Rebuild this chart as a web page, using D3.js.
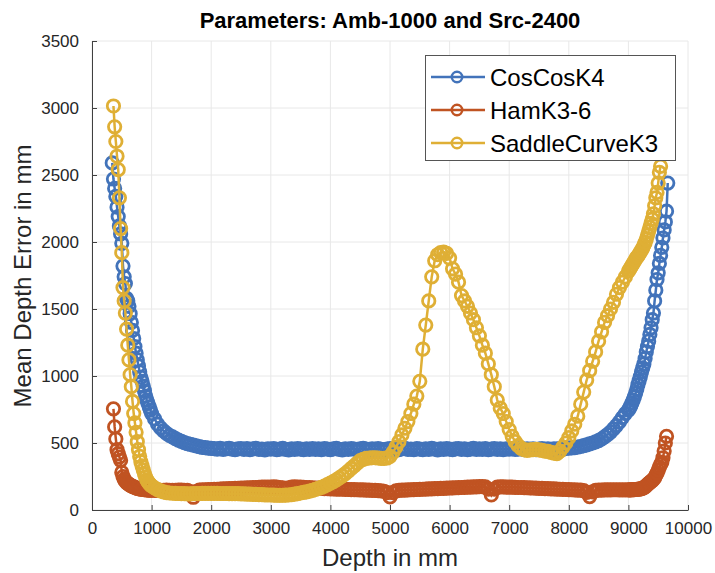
<!DOCTYPE html>
<html>
<head>
<meta charset="utf-8">
<script src="https://cdn.jsdelivr.net/npm/d3@7/dist/d3.min.js"></script>
<style>
  body { margin: 0; background: #fff; }
  text { font-family: "Liberation Sans", Arial, Helvetica, sans-serif; }
</style>
</head>
<body>
<div id="chart"></div>
<script>
// depth grid (mm) shared by all three series
var depths = [
  340,360,380,400,420,440,460,480,500,520,540,560,580,600,620,640,660,680,700,720,
  740,760,780,800,820,840,860,880,900,920,940,960,980,1000,
  1050,1100,1150,1200,1250,1300,1350,1400,1450,1500,
  1550,1600,1650,1700,1750,1800,1850,1900,1950,2000,
  2050,2100,2150,2200,2250,2300,2350,2400,2450,2500,
  2550,2600,2650,2700,2750,2800,2850,2900,2950,3000,
  3050,3100,3150,3200,3250,3300,3350,3400,3450,3500,
  3550,3600,3650,3700,3750,3800,3850,3900,3950,4000,
  4050,4100,4150,4200,4250,4300,4350,4400,4450,4500,
  4550,4600,4650,4700,4750,4800,4850,4900,4950,5000,
  5050,5100,5150,5200,5250,5300,5350,5400,5450,5500,
  5550,5600,5650,5700,5750,5800,5850,5900,5950,6000,
  6050,6100,6150,6200,6250,6300,6350,6400,6450,6500,
  6550,6600,6650,6700,6750,6800,6850,6900,6950,7000,
  7050,7100,7150,7200,7250,7300,7350,7400,7450,7500,
  7550,7600,7650,7700,7750,7800,7850,7900,7950,8000,
  8050,8100,8150,8200,8250,8300,8350,8400,8450,8500,
  8550,8600,8650,8700,8750,8800,8850,8900,8950,9000,
  9020,9040,9060,9080,9100,9120,9140,9160,9180,9200,
  9220,9240,9260,9280,9300,9320,9340,9360,9380,9400,
  9420,9440,9460,9480,9500,9520,9540,9560,9580,9600,
  9620,9640,9660
];

var cosCosK4 = [
  2590,2470,2400,2340,2260,2190,2120,2060,1990,1820,1740,1690,1580,1560,1520,1465,1400,1340,1280,1220,
  1170,1120,1075,1030,990,960,925,890,850,820,795,770,745,720,
  680,640,612,590,572,556,545,532,522,512,
  503,496,490,484,478,473,468,465,462,460,
  458,455,460,452,457,461,454,450,456,459,
  453,458,451,456,460,452,455,449,457,454,
  458,451,455,460,453,449,456,452,458,455,
  450,457,453,459,452,456,451,458,454,450,
  456,460,453,449,457,452,458,455,451,456,
  460,454,450,457,453,459,452,448,455,458,
  452,456,450,457,461,453,455,450,458,454,
  451,457,453,460,455,449,456,452,458,454,
  450,456,459,453,457,451,455,460,452,456,
  453,458,450,455,459,452,456,451,457,454,
  458,452,455,460,451,456,453,457,450,455,
  459,452,456,451,457,454,458,455,459,462,
  463,466,470,474,480,486,493,500,508,518,
  530,545,562,582,605,630,658,690,720,745,
  760,778,800,820,845,870,900,935,965,995,
  1030,1060,1090,1130,1180,1220,1260,1310,1360,1420,
  1470,1560,1640,1720,1770,1840,1900,1960,2030,2090,
  2150,2230,2440
];

var hamK36 = [
  null,755,620,530,450,420,395,370,280,250,228,215,205,198,192,186,180,176,172,168,
  165,162,160,158,156,155,153,152,151,150,150,149,148,148,
  147,146,146,147,148,147,146,147,148,148,
  147,146,138,95,138,148,150,151,152,153,
  154,155,156,157,158,159,160,161,162,163,
  164,165,166,167,168,169,170,170,171,171,
  172,170,168,165,155,165,170,172,171,170,
  169,168,167,166,164,163,162,160,159,158,
  157,156,155,155,154,153,152,152,151,150,
  150,149,148,147,146,145,143,140,130,98,
  130,142,146,148,149,150,151,152,153,154,
  155,156,157,158,159,160,161,162,163,164,
  165,166,167,168,169,170,171,172,173,175,
  174,172,155,112,155,170,173,172,171,170,
  170,169,168,168,167,166,165,164,163,162,
  161,160,159,158,157,156,155,154,153,152,
  151,150,149,148,145,132,100,135,146,148,
  149,150,150,150,151,151,150,150,150,150,
  150,150,151,152,152,153,154,155,156,158,
  160,163,167,173,182,190,198,205,213,220,
  228,240,258,275,295,320,340,355,390,440,
  500,550,null
];

var saddleCurveK3 = [
  null,3015,2860,2750,2640,2540,2330,2100,1920,1660,1560,1470,1350,1230,1120,1010,920,810,720,650,
  580,510,450,400,360,330,300,270,245,225,210,198,188,180,
  165,152,142,135,130,127,125,124,123,122,
  122,121,121,122,123,123,124,124,124,124,
  124,124,123,123,123,122,122,122,122,121,
  120,119,118,117,116,115,114,113,112,112,
  111,110,110,110,111,112,114,118,122,127,
  131,136,141,147,154,161,169,178,189,200,
  212,225,240,255,272,290,310,330,350,368,
  378,385,388,390,390,388,386,385,388,400,
  430,470,510,560,610,660,720,790,850,960,
  1200,1380,1560,1740,1860,1905,1920,1925,1915,1880,
  1800,1760,1700,1600,1560,1520,1470,1420,1360,1300,
  1230,1170,1090,1010,920,820,760,720,660,600,
  550,510,480,460,450,445,448,450,452,448,
  445,440,438,430,425,420,440,470,500,540,
  590,640,700,790,880,970,1040,1110,1180,1260,
  1330,1400,1450,1500,1550,1610,1660,1700,1740,1780,
  1795,1810,1825,1840,1855,1870,1885,1895,1910,1925,
  1940,1955,1975,1995,2020,2050,2080,2110,2140,2170,
  2210,2270,2330,2370,2440,2520,2565,null,null,null,
  null,null,null
];

var seriesNames = ["CosCosK4", "HamK3-6", "SaddleCurveK3"];
var seriesColors = ["#4273ba", "#c05322", "#dfaf35"];
var xTicks = [0,1000,2000,3000,4000,5000,6000,7000,8000,9000,10000];
var yTicks = [0,500,1000,1500,2000,2500,3000,3500];

var width = 715, height = 573;
var margin = {left: 92, right: 27, top: 41, bottom: 63};

var svg = d3.select("#chart").append("svg")
  .attr("width", width)
  .attr("height", height);

var x = d3.scaleLinear().domain([0, 10000]).range([margin.left, width - margin.right]);
var y = d3.scaleLinear().domain([0, 3500]).range([height - margin.bottom, margin.top]);

// grid
svg.append("g").selectAll("line.gx")
  .data(xTicks).enter().append("line")
  .attr("x1", function(d) { return x(d); })
  .attr("x2", function(d) { return x(d); })
  .attr("y1", y(0)).attr("y2", y(3500))
  .attr("stroke", "#e8e8e8").attr("stroke-width", 1);

svg.append("g").selectAll("line.gy")
  .data(yTicks).enter().append("line")
  .attr("x1", x(0)).attr("x2", x(10000))
  .attr("y1", function(d) { return y(d); })
  .attr("y2", function(d) { return y(d); })
  .attr("stroke", "#e8e8e8").attr("stroke-width", 1);

// axes, ticks inward
var xAxis = svg.append("g")
  .attr("transform", "translate(0," + y(0) + ")")
  .call(d3.axisBottom(x).tickValues(xTicks).tickFormat(d3.format("d"))
    .tickSizeInner(-5).tickSizeOuter(0).tickPadding(12));
var yAxis = svg.append("g")
  .attr("transform", "translate(" + x(0) + ",0)")
  .call(d3.axisLeft(y).tickValues(yTicks).tickFormat(d3.format("d"))
    .tickSizeInner(-5).tickSizeOuter(0).tickPadding(13));

[xAxis, yAxis].forEach(function(a) {
  a.select(".domain").attr("stroke", "#404040");
  a.selectAll(".tick line").attr("stroke", "#404040");
  a.selectAll(".tick text")
    .attr("fill", "#262626")
    .style("font-size", "17px")
    .style("font-family", "'Liberation Sans', Arial, sans-serif");
});

// series
var allSeries = [cosCosK4, hamK36, saddleCurveK3];

var line = d3.line()
  .defined(function(d) { return d[1] != null; })
  .x(function(d) { return x(d[0]); })
  .y(function(d) { return y(d[1]); });

allSeries.forEach(function(vals, i) {
  var pts = depths.map(function(d, j) { return [d, vals[j]]; });
  var g = svg.append("g");
  g.append("path")
    .datum(pts)
    .attr("d", line)
    .attr("fill", "none")
    .attr("stroke", seriesColors[i])
    .attr("stroke-width", 2.5);
  g.selectAll("circle")
    .data(pts.filter(function(p) { return p[1] != null; }))
    .enter().append("circle")
    .attr("cx", function(d) { return x(d[0]); })
    .attr("cy", function(d) { return y(d[1]); })
    .attr("r", 6.2)
    .attr("fill", "none")
    .attr("stroke", seriesColors[i])
    .attr("stroke-width", 2.8);
});

// title and labels
svg.append("text")
  .attr("x", 390).attr("y", 28)
  .attr("text-anchor", "middle")
  .style("font-size", "22px")
  .style("font-weight", "bold")
  .attr("fill", "#000")
  .text("Parameters: Amb-1000 and Src-2400");

svg.append("text")
  .attr("x", 390).attr("y", 566)
  .attr("text-anchor", "middle")
  .style("font-size", "24px")
  .attr("fill", "#262626")
  .text("Depth in mm");

svg.append("text")
  .attr("transform", "translate(31,276) rotate(-90)")
  .attr("text-anchor", "middle")
  .style("font-size", "24px")
  .attr("fill", "#262626")
  .text("Mean Depth Error in mm");

// legend
var legend = svg.append("g");
legend.append("rect")
  .attr("x", 425.5).attr("y", 55.5)
  .attr("width", 250).attr("height", 105)
  .attr("fill", "#fff")
  .attr("stroke", "#555")
  .attr("stroke-width", 1);

seriesNames.forEach(function(name, i) {
  var cy = 77 + i * 33;
  legend.append("line")
    .attr("x1", 431).attr("x2", 485)
    .attr("y1", cy).attr("y2", cy)
    .attr("stroke", seriesColors[i]).attr("stroke-width", 2.5);
  legend.append("circle")
    .attr("cx", 457).attr("cy", cy).attr("r", 5.2)
    .attr("fill", "none")
    .attr("stroke", seriesColors[i]).attr("stroke-width", 2.5);
  legend.append("text")
    .attr("x", 490).attr("y", cy + 8.5)
    .style("font-size", "24px")
    .attr("fill", "#000")
    .text(name);
});
</script>
</body>
</html>
